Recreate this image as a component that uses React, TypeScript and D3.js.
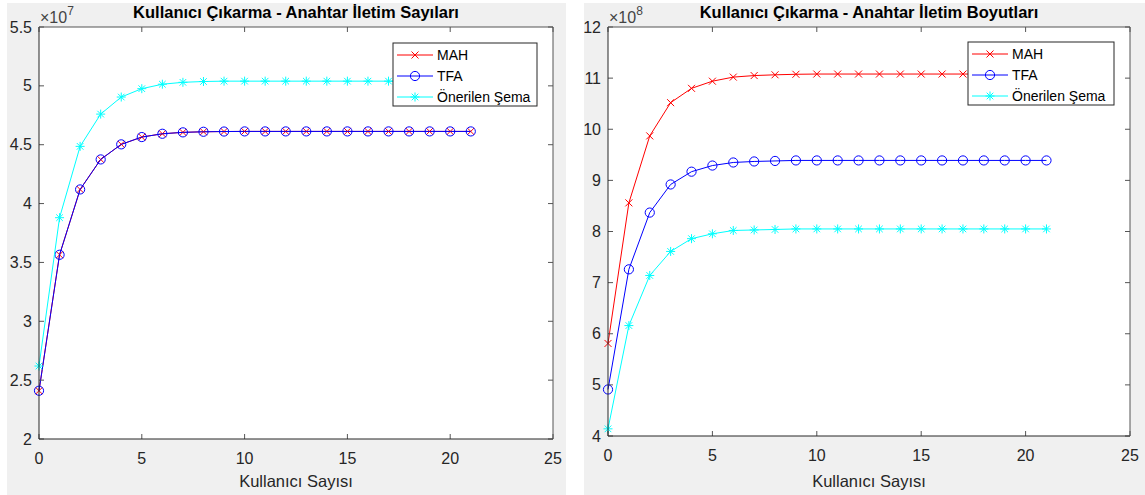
import React from 'react';
import * as d3 from 'd3';

// kullanıcı sayısı (x ekseni)
const users = [0, 1, 2, 3, 4, 5, 6, 7, 8, 9, 10, 11, 12, 13, 14, 15, 16, 17, 18, 19, 20, 21];

// sol grafik: anahtar iletim sayıları (x 1e7)
const mahCount = [2.41, 3.565, 4.12, 4.375, 4.503, 4.565, 4.593, 4.605, 4.61, 4.612, 4.613, 4.613, 4.613, 4.613, 4.613, 4.613, 4.613, 4.613, 4.613, 4.613, 4.613, 4.613];
const tfaCount = [2.41, 3.565, 4.12, 4.375, 4.503, 4.565, 4.593, 4.605, 4.61, 4.612, 4.613, 4.613, 4.613, 4.613, 4.613, 4.613, 4.613, 4.613, 4.613, 4.613, 4.613, 4.613];
const oneriCount = [2.62, 3.88, 4.486, 4.76, 4.905, 4.976, 5.014, 5.03, 5.037, 5.04, 5.04, 5.04, 5.04, 5.04, 5.04, 5.04, 5.04, 5.04, 5.04, 5.04, 5.04, 5.04];

// sağ grafik: anahtar iletim boyutları (x 1e8)
const mahSize = [5.81, 8.56, 9.87, 10.52, 10.8, 10.94, 11.02, 11.05, 11.065, 11.075, 11.08, 11.08, 11.08, 11.08, 11.08, 11.08, 11.08, 11.08, 11.08, 11.08, 11.08, 11.08];
const tfaSize = [4.91, 7.26, 8.37, 8.92, 9.17, 9.29, 9.35, 9.37, 9.38, 9.39, 9.39, 9.39, 9.39, 9.39, 9.39, 9.39, 9.39, 9.39, 9.39, 9.39, 9.39, 9.39];
const oneriSize = [4.14, 6.16, 7.14, 7.61, 7.86, 7.955, 8.02, 8.03, 8.04, 8.05, 8.05, 8.05, 8.05, 8.05, 8.05, 8.05, 8.05, 8.05, 8.05, 8.05, 8.05, 8.05];

const xTicks = [0, 5, 10, 15, 20, 25];
const yTicksCount = [2, 2.5, 3, 3.5, 4, 4.5, 5, 5.5];
const yTicksSize = [4, 5, 6, 7, 8, 9, 10, 11, 12];
const seriesNames = ['MAH', 'TFA', 'Önerilen Şema'];

const FONT = '"Liberation Sans", Arial, Helvetica, sans-serif';
const AX = '#262626';
const BOX = '#555';
const colors = ['#ff0000', '#0000ff', '#00ffff'];
const markers = ['x', 'o', '*'];

function Marker({ type, x, y, color }) {
    if (type === 'x') {
        const s = 3.5;
        return <path d={`M${x - s},${y - s}L${x + s},${y + s}M${x - s},${y + s}L${x + s},${y - s}`} stroke={color} strokeWidth={1} fill="none" />;
    }
    if (type === 'o') {
        return <circle cx={x} cy={y} r={4.6} stroke={color} strokeWidth={1} fill="none" />;
    }
    const s = 4.5, d = 3.3;
    return <path d={`M${x},${y - s}L${x},${y + s}M${x - s},${y}L${x + s},${y}M${x - d},${y - d}L${x + d},${y + d}M${x - d},${y + d}L${x + d},${y - d}`} stroke={color} strokeWidth={1} fill="none" />;
}

function Chart({ panel, box, title, series, yDomain, yTicks, exponent, legend }) {
    const x = d3.scaleLinear().domain([0, 25]).range([box.l, box.r]);
    const y = d3.scaleLinear().domain(yDomain).range([box.b, box.t]);
    const line = d3.line().x((d, i) => x(users[i])).y(d => y(d));
    const tl = 5;
    return (
        <g>
            <rect x={panel.x} y={panel.y} width={panel.w} height={panel.h} fill="#f0f0f0" />
            <rect x={box.l} y={box.t} width={box.r - box.l} height={box.b - box.t} fill="#fff" />
            {series.map((s, k) => (
                <g key={k}>
                    <path d={line(s)} stroke={colors[k]} strokeWidth={1} fill="none" />
                    {s.map((v, i) => <Marker key={i} type={markers[k]} x={x(users[i])} y={y(v)} color={colors[k]} />)}
                </g>
            ))}
            {/* ticks inward, box on */}
            {xTicks.map(t => (
                <g key={'x' + t}>
                    <line x1={x(t)} x2={x(t)} y1={box.b} y2={box.b - tl} stroke={BOX} />
                    <line x1={x(t)} x2={x(t)} y1={box.t} y2={box.t + tl} stroke={BOX} />
                    <text x={x(t)} y={box.b + 25} textAnchor="middle" fontSize={16} fill={AX} fontFamily={FONT}>{t}</text>
                </g>
            ))}
            {yTicks.map(t => (
                <g key={'y' + t}>
                    <line x1={box.l} x2={box.l + tl} y1={y(t)} y2={y(t)} stroke={BOX} />
                    <line x1={box.r} x2={box.r - tl} y1={y(t)} y2={y(t)} stroke={BOX} />
                    <text x={box.l - 7} y={y(t) + 5.5} textAnchor="end" fontSize={16} fill={AX} fontFamily={FONT}>{t}</text>
                </g>
            ))}
            <line x1={box.l} x2={box.l} y1={box.t} y2={box.b} stroke={AX} />
            <line x1={box.l} x2={box.r} y1={box.b} y2={box.b} stroke={AX} />
            <line x1={box.l} x2={box.r} y1={box.t} y2={box.t} stroke={BOX} />
            <line x1={box.r} x2={box.r} y1={box.t} y2={box.b} stroke={BOX} />
            <text x={box.l + 1} y={23} fontSize={16} fill="#444" fontFamily={FONT}>
                ×10<tspan fontSize={12} dy={-8}>{exponent}</tspan>
            </text>
            <text x={(box.l + box.r) / 2} y={18} textAnchor="middle" fontSize={16.5} fontWeight="bold" fill="#000" fontFamily={FONT}>{title}</text>
            <text x={(box.l + box.r) / 2} y={487} textAnchor="middle" fontSize={16.5} fill={AX} fontFamily={FONT}>Kullanıcı Sayısı</text>
            <g transform={`translate(${legend.x},${legend.y})`}>
                <rect x={0} y={0} width={legend.w} height={legend.h} fill="#fff" stroke={AX} strokeWidth={1} />
                {seriesNames.map((n, k) => (
                    <g key={n}>
                        <line x1={4} x2={40} y1={12 + k * 21} y2={12 + k * 21} stroke={colors[k]} strokeWidth={1} />
                        <Marker type={markers[k]} x={22} y={12 + k * 21} color={colors[k]} />
                        <text x={44} y={17 + k * 21} fontSize={14} fill="#000" fontFamily={FONT}>{n}</text>
                    </g>
                ))}
            </g>
        </g>
    );
}

export default function App() {
    return (
        <svg width={1145} height={495} style={{ position: 'absolute', left: 0, top: 0, background: '#fff' }}>
            <Chart
                panel={{ x: 7, y: 3, w: 559, h: 492 }}
                box={{ l: 39, r: 553, t: 27, b: 439 }}
                title="Kullanıcı Çıkarma - Anahtar İletim Sayıları"
                series={[mahCount, tfaCount, oneriCount]}
                yDomain={[2, 5.5]}
                yTicks={yTicksCount}
                exponent="7"
                legend={{ x: 393, y: 43, w: 144, h: 63 }}
            />
            <Chart
                panel={{ x: 584, y: 3, w: 561, h: 492 }}
                box={{ l: 608, r: 1130, t: 27, b: 436 }}
                title="Kullanıcı Çıkarma - Anahtar İletim Boyutları"
                series={[mahSize, tfaSize, oneriSize]}
                yDomain={[4, 12]}
                yTicks={yTicksSize}
                exponent="8"
                legend={{ x: 968, y: 42, w: 146, h: 63 }}
            />
        </svg>
    );
}
